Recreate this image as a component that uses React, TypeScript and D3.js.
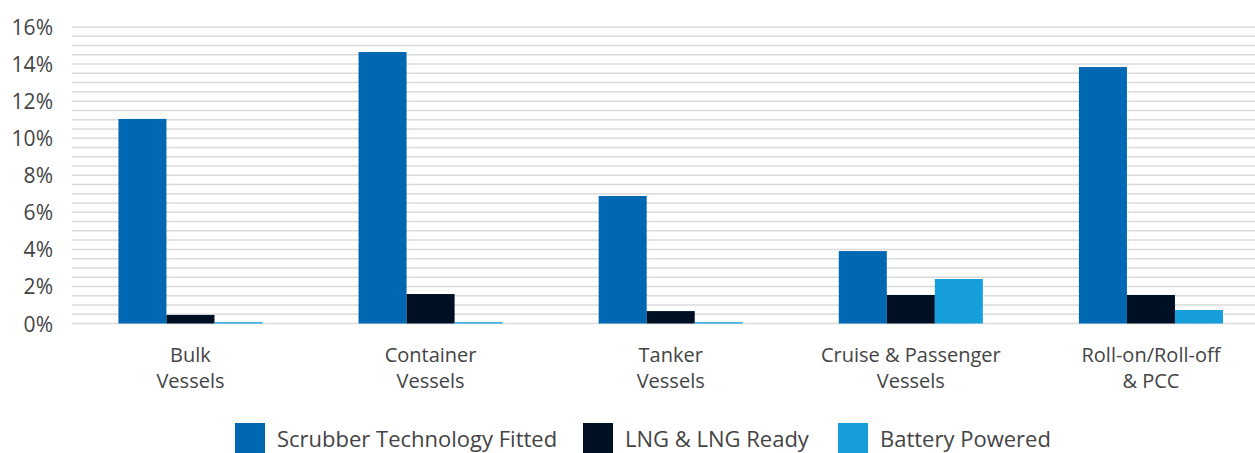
import React from "react";
import * as d3 from "d3";

const categories = [
  ["Bulk", "Vessels"],
  ["Container", "Vessels"],
  ["Tanker", "Vessels"],
  ["Cruise & Passenger", "Vessels"],
  ["Roll-on/Roll-off", "& PCC"],
];
const seriesNames = ["Scrubber Technology Fitted", "LNG & LNG Ready", "Battery Powered"];
const scrubber = [11.04, 14.65, 6.88, 3.91, 13.84];
const lng = [0.46, 1.59, 0.67, 1.54, 1.54];
const battery = [0.07, 0.07, 0.07, 2.4, 0.73];
const yTicks = [0, 2, 4, 6, 8, 10, 12, 14, 16];
const colors = ["#0068b2", "#001024", "#169fdb"];

const W = 1255;
const H = 453;
const FONT = "'Open Sans', sans-serif";

export default function App() {
  const series = [scrubber, lng, battery];
  const keys = categories.map((c) => c.join(" "));
  const x0 = d3.scaleBand<string>().domain(keys).range([70.4, 1271]).paddingInner(0.4).paddingOuter(0.2);
  const x1 = d3.scaleBand<number>().domain([0, 1, 2]).range([0, x0.bandwidth()]);
  const y = d3.scaleLinear().domain([0, 16]).range([323.5, 27]);
  const grid = d3.range(0, 16.01, 0.5);

  const legendX = [235, 583, 838];

  return (
    <svg width={W} height={H} style={{ position: "absolute", left: 0, top: 0, background: "#fff" }} fontFamily={FONT}>
      {grid.map((g) => (
        <line key={g} x1={72} x2={W} y1={y(g)} y2={y(g)} stroke="#dadada" strokeWidth={1.5} />
      ))}
      {yTicks.map((t) => (
        <text key={t} x={53} y={y(t) + 8} textAnchor="end" fontSize={21} fill="#444">
          {t}%
        </text>
      ))}
      {keys.map((k, i) => (
        <g key={k} transform={`translate(${x0(k)},0)`}>
          {series.map((s, j) => (
            <rect
              key={j}
              x={x1(j)}
              y={y(s[i])}
              width={x1.bandwidth()}
              height={y(0) - y(s[i])}
              fill={colors[j]}
            />
          ))}
          {categories[i].map((line, li) => (
            <text
              key={li}
              x={x0.bandwidth() / 2}
              y={362 + li * 26}
              textAnchor="middle"
              fontSize={20}
              fill="#444"
            >
              {line}
            </text>
          ))}
        </g>
      ))}
      {seriesNames.map((n, j) => (
        <g key={n} transform={`translate(${legendX[j]},423)`}>
          <rect width={30} height={30} fill={colors[j]} />
          <text x={42} y={24} fontSize={22} fill="#444">
            {n}
          </text>
        </g>
      ))}
    </svg>
  );
}
